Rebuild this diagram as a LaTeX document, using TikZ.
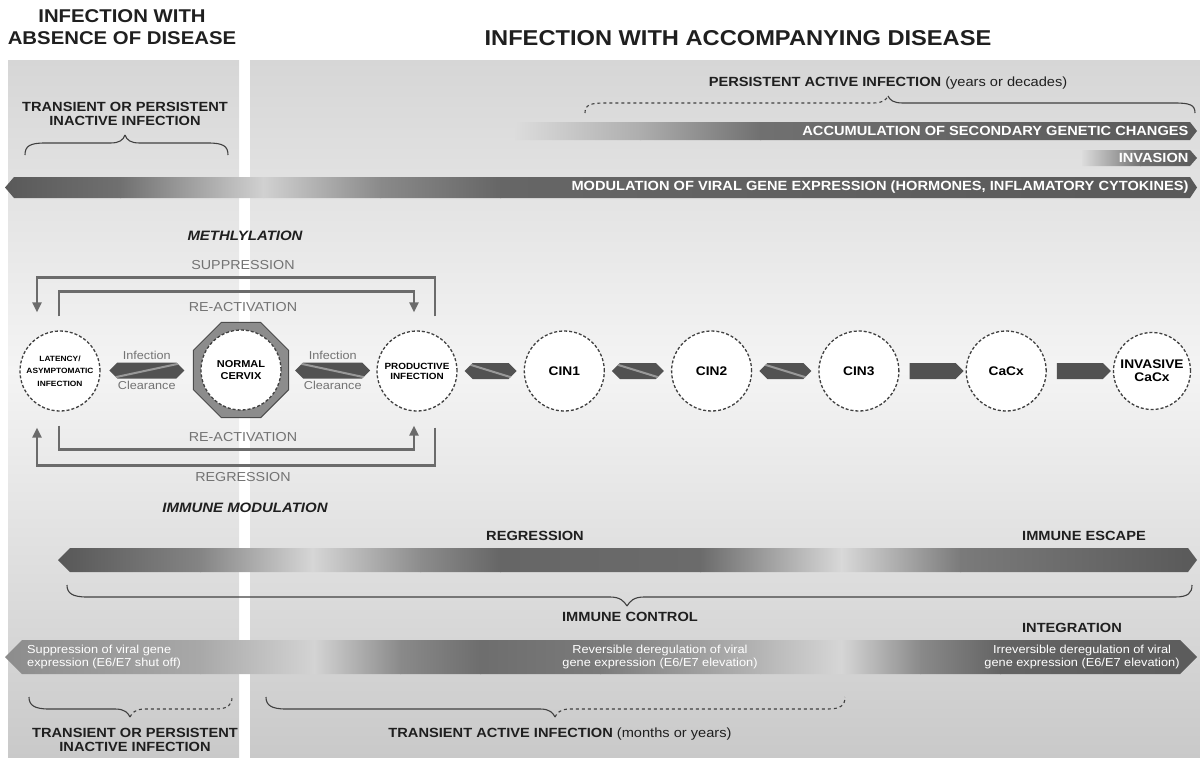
\documentclass[tikz,border=0pt]{standalone}
\usepackage{fontspec}
\setmainfont{Liberation Sans}[FakeStretch=1.1]
\usetikzlibrary{positioning}
\usetikzlibrary{shapes.geometric}
\usetikzlibrary{shapes.symbols}
\usetikzlibrary{arrows.meta}
\usetikzlibrary{calc}
\definecolor{pantop}{HTML}{D6D6D6}
\definecolor{panmid}{HTML}{F4F4F4}
\definecolor{panbot}{HTML}{C9C9C9}
\definecolor{barbg}{HTML}{DCDCDC}

\begin{document}
\begin{tikzpicture}[
    x=1pt, y=-1pt,
    head/.style={font=\fontsize{18.5}{22}\selectfont\bfseries, text=black!88, align=center},
    tag/.style={font=\fontsize{13.3}{14}\selectfont\bfseries, text=black!88, align=center},
    bartxt/.style={font=\fontsize{13.3}{14}\selectfont\bfseries, text=white},
    wtxt/.style={font=\fontsize{11.6}{12.6}\selectfont, text=white, inner sep=0pt},
    looptxt/.style={font=\fontsize{13}{15}\selectfont, text=black!55},
    ital/.style={font=\fontsize{13.6}{15}\selectfont\bfseries\itshape, text=black!88},
    small/.style={font=\fontsize{11.5}{12}\selectfont, text=black!55, inner sep=1pt},
    stage/.style={circle, draw=black!75, densely dashed, line width=1.3pt, fill=white,
      minimum size=80pt, inner sep=0pt, align=center, font=\fontsize{12.5}{13}\selectfont\bfseries},
    dbl/.style={signal, signal to=east and west, fill=black!68, minimum width=75pt,
      minimum height=16pt, inner sep=0pt},
    sgl/.style={signal, signal to=east, fill=black!68, minimum width=54pt,
      minimum height=16pt, inner sep=0pt},
    upstripe/.style={path picture={\draw[black!40, line width=2pt]
      (path picture bounding box.south west) -- (path picture bounding box.north east);}},
    downstripe/.style={path picture={\draw[black!40, line width=2pt]
      (path picture bounding box.north west) -- (path picture bounding box.south east);}},
    loopline/.style={draw=black!58, line width=2.4pt, -{Triangle[length=10pt,width=9pt]}},
    brace/.style={draw=black!75, line width=1.1pt},
    dbrace/.style={brace, dashed}
]
\useasboundingbox (0,0) rectangle (1200,758);

% panels
\shade[top color=pantop, bottom color=panmid] (8,60) rectangle (239,371);
\shade[top color=panmid, bottom color=panbot] (8,370) rectangle (239,758);
\shade[top color=pantop, bottom color=panmid] (250,60) rectangle (1200,371);
\shade[top color=panmid, bottom color=panbot] (250,370) rectangle (1200,758);

% headings
\node[head] (hdl) at (122,27) {INFECTION WITH\\ABSENCE OF DISEASE};
\node[head, font=\fontsize{21.5}{24}\selectfont\bfseries] (hdr) at (738,38)
  {INFECTION WITH ACCOMPANYING DISEASE};

\node[tag] (tpi) at (125,114) {TRANSIENT OR PERSISTENT\\INACTIVE INFECTION};
\draw[brace] (25,155) .. controls (25,146) and (30,143) .. (45,143) -- (110,143)
  .. controls (120,143) and (123,140) .. (125,135);
\draw[brace] (125,135) .. controls (127,140) and (130,143) .. (140,143) -- (208,143)
  .. controls (223,143) and (228,146) .. (228,155);

\node[tag] (pai) at (888,83) {PERSISTENT ACTIVE INFECTION {\mdseries (years or decades)}};
\draw[dbrace] (585,113) .. controls (585,105) and (590,103) .. (605,103) -- (873,103)
  .. controls (883,103) and (886,100) .. (888,96);
\draw[brace] (888,96) .. controls (890,100) and (893,103) .. (903,103) -- (1175,103)
  .. controls (1190,103) and (1195,105) .. (1195,113);

% upper bars
\begin{scope}
  \clip (515,122) -- (1190,122) -- (1197,131) -- (1190,140) -- (515,140) -- cycle;
  \foreach \xa/\ca/\xb/\cb in {515/barbg/640/black!32, 640/black!32/760/black!56,
      760/black!56/1197/black!65}
    \shade[left color=\ca, right color=\cb] (\xa,122) rectangle (\xb+1,140);
\end{scope}
\node[bartxt, anchor=east] (acc) at (1192,131) {ACCUMULATION OF SECONDARY GENETIC CHANGES};

\begin{scope}
  \clip (1082,150) -- (1190,150) -- (1197,158) -- (1190,166) -- (1082,166) -- cycle;
  \foreach \xa/\ca/\xb/\cb in {1082/barbg/1140/black!56, 1140/black!56/1197/black!65}
    \shade[left color=\ca, right color=\cb] (\xa,150) rectangle (\xb+1,166);
\end{scope}
\node[bartxt, anchor=east] (inva) at (1192,158) {INVASION};

\begin{scope}
  \clip (5,187.5) -- (14,177) -- (1190,177) -- (1197,187.5) -- (1190,198) -- (14,198) -- cycle;
  \foreach \xa/\ca/\xb/\cb in {5/black!65/120/black!56, 120/black!56/263/black!18,
      263/black!18/380/black!46, 380/black!46/500/black!60, 500/black!60/1197/black!65}
    \shade[left color=\ca, right color=\cb] (\xa,177) rectangle (\xb+1,198);
\end{scope}
\node[bartxt, anchor=east] (mod) at (1192,187.5)
  {MODULATION OF VIRAL GENE EXPRESSION (HORMONES, INFLAMATORY CYTOKINES)};

% stages
\node[stage, font=\fontsize{7.6}{12.5}\selectfont\bfseries] (lat) at (60,371)
  {LATENCY/\\ASYMPTOMATIC\\INFECTION};
\node[regular polygon, regular polygon sides=8, minimum size=103pt, inner sep=0pt,
  fill=black!45, draw=black!70, line width=1pt] (oct) at (241,370) {};
\node[stage, font=\fontsize{10}{12}\selectfont\bfseries] (nor) at (oct.center) {NORMAL\\CERVIX};
\node[stage, font=\fontsize{9}{10}\selectfont\bfseries] (pro) at (417,371)
  {PRODUCTIVE\\INFECTION};
\node[stage, right=66pt of pro] (cin1) {CIN1};
\node[stage, right=66pt of cin1] (cin2) {CIN2};
\node[stage, right=66pt of cin2] (cin3) {CIN3};
\node[stage, right=66pt of cin3] (cacx) {CaCx};
\node[stage, right=66pt of cacx, minimum size=77pt] (inv) {INVASIVE\\CaCx};

% connectors between stages
\node[dbl, upstripe] (a1) at ($(lat.east)!0.5!(oct.west)$) {};
\node[small, above=1pt of a1] (i1) {Infection};
\node[small, below=1pt of a1] (c1) {Clearance};
\node[dbl, downstripe] (a2) at ($(oct.east)!0.5!(pro.west)$) {};
\node[small, above=1pt of a2] (i2) {Infection};
\node[small, below=1pt of a2] (c2) {Clearance};
\node[dbl, downstripe, minimum width=52pt] (a3) at ($(pro.east)!0.5!(cin1.west)$) {};
\node[dbl, downstripe, minimum width=52pt] (a4) at ($(cin1.east)!0.5!(cin2.west)$) {};
\node[dbl, downstripe, minimum width=52pt] (a5) at ($(cin2.east)!0.5!(cin3.west)$) {};
\node[sgl] (a6) at ($(cin3.east)!0.5!(cacx.west)$) {};
\node[sgl] (a7) at ($(cacx.east)!0.5!(inv.west)$) {};

% suppression / re-activation / regression loops
\node[ital] (meth) at (245,236) {METHLYLATION};
\node[looptxt] (supp) at (243,265) {SUPPRESSION};
\node[looptxt] (react1) at (243,307) {RE-ACTIVATION};
\node[looptxt] (react2) at (243,437) {RE-ACTIVATION};
\node[looptxt] (regr1) at (243,477) {REGRESSION};
\node[ital] (immod) at (245,508) {IMMUNE MODULATION};
\draw[loopline] ([xshift=18pt,yshift=14pt]pro.north) -- ++(0,-39) -| ([xshift=-23pt,yshift=18pt]lat.north);
\draw[loopline] ([xshift=-1pt,yshift=14pt]lat.north) -- ++(0,-25) -| ([xshift=-3pt,yshift=18pt]pro.north);
\draw[loopline] ([xshift=-1pt,yshift=-14pt]lat.south) -- ++(0,24) -| ([xshift=-3pt,yshift=-14pt]pro.south);
\draw[loopline] ([xshift=18pt,yshift=-16pt]pro.south) -- ++(0,38) -| ([xshift=-23pt,yshift=-16pt]lat.south);

% lower bars
\node[tag] (regr2) at (535,536) {REGRESSION};
\node[tag] (esc) at (1084,536) {IMMUNE ESCAPE};
\begin{scope}
  \clip (58,560) -- (70,548) -- (1188,548) -- (1197,560) -- (1188,572) -- (70,572) -- cycle;
  \foreach \xa/\ca/\xb/\cb in {58/black!66/200/black!48, 200/black!48/312/black!16,
      312/black!16/420/black!45, 420/black!45/500/black!60, 500/black!60/700/black!58,
      700/black!58/841/black!15, 841/black!15/960/black!52, 960/black!52/1197/black!65}
    \shade[left color=\ca, right color=\cb] (\xa,548) rectangle (\xb+1,572);
\end{scope}
\draw[brace] (67,585) .. controls (67,593) and (72,597) .. (87,597) -- (610,597)
  .. controls (620,597) and (624,601) .. (627,606);
\draw[brace] (627,606) .. controls (630,601) and (634,597) .. (644,597) -- (1175,597)
  .. controls (1188,597) and (1192,593) .. (1192,585);
\node[tag] (imctl) at (630,617) {IMMUNE CONTROL};
\node[tag] (integ) at (1072,628) {INTEGRATION};

\begin{scope}
  \clip (5,657) -- (22,640) -- (1180,640) -- (1197,657) -- (1180,674) -- (22,674) -- cycle;
  \foreach \xa/\ca/\xb/\cb in {5/black!45/200/black!34, 200/black!34/314/black!17,
      314/black!17/400/black!46, 400/black!46/480/black!57, 480/black!57/600/black!52,
      600/black!52/760/black!29, 760/black!29/841/black!16, 841/black!16/920/black!46,
      920/black!46/1000/black!61, 1000/black!61/1197/black!64}
    \shade[left color=\ca, right color=\cb] (\xa,640) rectangle (\xb+1,674);
\end{scope}
\node[wtxt, anchor=west, align=left] (shut) at (27,657)
  {Suppression of viral gene\\expression (E6/E7 shut off)};
\node[wtxt, align=center] (rev) at (660,657)
  {Reversible deregulation of viral\\gene expression (E6/E7 elevation)};
\node[wtxt, align=center] (irr) at (1082,657)
  {Irreversible deregulation of viral\\gene expression (E6/E7 elevation)};

% bottom braces
\draw[brace] (29,697) .. controls (29,705) and (34,709) .. (49,709) -- (115,709)
  .. controls (125,709) and (128,713) .. (130,717);
\draw[dbrace] (130,717) .. controls (132,713) and (135,709) .. (145,709) -- (215,709)
  .. controls (228,709) and (232,705) .. (232,697);
\node[tag] (tpi2) at (135,740) {TRANSIENT OR PERSISTENT\\INACTIVE INFECTION};
\draw[brace] (266,697) .. controls (266,705) and (271,709) .. (286,709) -- (540,709)
  .. controls (550,709) and (553,713) .. (555,717);
\draw[dbrace] (555,717) .. controls (557,713) and (560,709) .. (570,709) -- (828,709)
  .. controls (841,709) and (845,705) .. (845,697);
\node[tag] (tai) at (560,734) {TRANSIENT ACTIVE INFECTION {\mdseries (months or years)}};
\end{tikzpicture}
\end{document}
